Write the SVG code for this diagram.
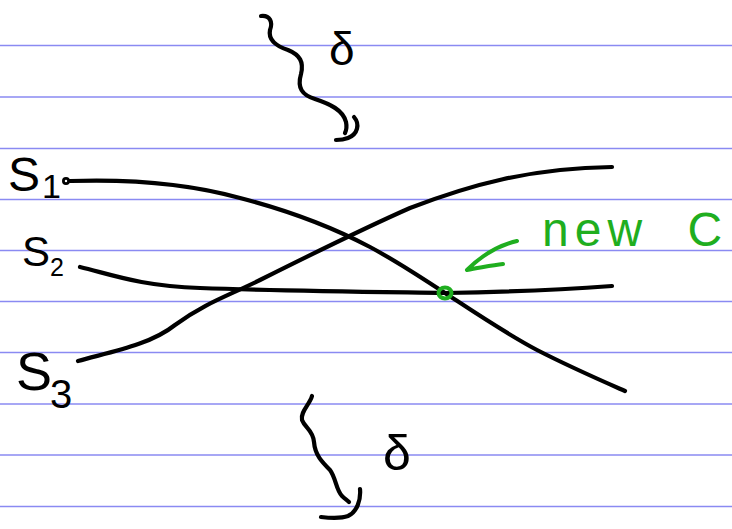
<svg xmlns="http://www.w3.org/2000/svg" width="732" height="529" viewBox="0 0 732 529">
<style>
.rule{stroke:#8a8af2;stroke-width:1.6}
.ink{fill:none;stroke:#000;stroke-width:4.2;stroke-linecap:round;stroke-linejoin:round}
.gink{fill:none;stroke:#1fae1f;stroke-width:4;stroke-linecap:round;stroke-linejoin:round}
.lbl{font-family:"Liberation Sans","DejaVu Sans",sans-serif;fill:#000}
.glbl{font-family:"Liberation Sans","DejaVu Sans",sans-serif;fill:#1fae1f}
</style>
<rect width="732" height="529" fill="#fff"/>
<g id="paper">
<line class="rule" x1="0" y1="45.5" x2="732" y2="45.5"/>
<line class="rule" x1="0" y1="97" x2="732" y2="97"/>
<line class="rule" x1="0" y1="148.5" x2="732" y2="148.5"/>
<line class="rule" x1="0" y1="199.5" x2="732" y2="199.5"/>
<line class="rule" x1="0" y1="250.5" x2="732" y2="250.5"/>
<line class="rule" x1="0" y1="301.5" x2="732" y2="301.5"/>
<line class="rule" x1="0" y1="352.5" x2="732" y2="352.5"/>
<line class="rule" x1="0" y1="404" x2="732" y2="404"/>
<line class="rule" x1="0" y1="455" x2="732" y2="455"/>
<line class="rule" x1="0" y1="506.5" x2="732" y2="506.5"/>
</g>
<g id="curves">
<path id="s1" class="ink" d="M70 181 C130 179 190 184 240 198 C290 211 330 226 370 247 C400 263 420 277 445 293 C480 316 505 333 537 350 C570 367 600 380 625 391"/>
<circle cx="66" cy="181" r="2.6" fill="none" stroke="#000" stroke-width="2.8"/>
<path id="s2" class="ink" d="M80 267 C110 274 140 286 200 288 C280 291 380 292 445 293 C510 292 570 289 612 286"/>
<path id="s3" class="ink" d="M78 361 C110 352 150 345 175 325 C205 303 230 295 260 280 C310 255 360 230 410 208 C470 185 530 168 612 167"/>
</g>
<g id="labels">
<text class="lbl" x="8" y="191" font-size="48">S<tspan font-size="34" dx="2" dy="7">1</tspan></text>
<text class="lbl" x="22" y="266" font-size="42">S<tspan font-size="25" dx="0" dy="10">2</tspan></text>
<text class="lbl" x="16" y="390" font-size="54">S<tspan font-size="40" dx="-2" dy="18">3</tspan></text>
</g>
<g id="top-brace">
<path class="ink" d="M261 16 C270 15 273 22 270 30 C268 40 276 46 288 50 C300 55 304 62 301 74 C297 88 302 95 315 99 C330 104 343 110 346 122 C347 127 346 131 345 133"/>
<path class="ink" d="M354 117 C360 124 358 134 348 138 C343 140 339 140 336 140"/>
<text class="lbl" x="329" y="65" font-size="46">δ</text>
</g>
<g id="bottom-brace">
<path class="ink" d="M312 396 C310 404 300 412 302 420 C305 428 313 430 314 442 C315 455 322 462 330 470 C336 478 336 490 342 496 C345 499 347 500 349 502"/>
<path class="ink" d="M360 489 C361 500 357 512 348 516 C340 519 330 518 321 517"/>
<text class="lbl" x="383" y="470" font-size="50">δ</text>
</g>
<g id="new-c">
<ellipse cx="445" cy="293" rx="6.5" ry="5.5" class="gink" stroke-width="5"/>
<path class="gink" d="M517 241 C500 245 482 255 467 270 C480 268 492 265 503 264"/>
<text class="glbl" x="542" y="246" font-size="48" letter-spacing="6" word-spacing="20">new C</text>
</g>
</svg>
